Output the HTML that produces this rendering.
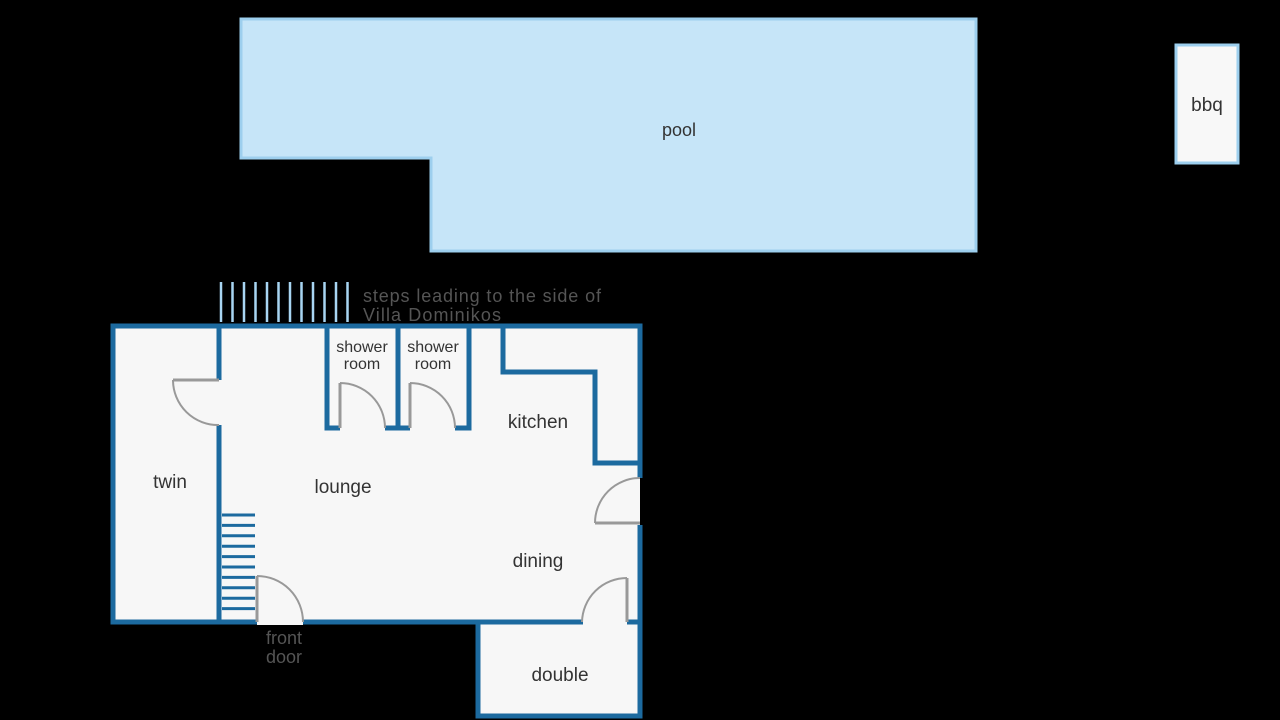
<!DOCTYPE html>
<html><head><meta charset="utf-8"><style>
html,body{margin:0;padding:0;background:#000;}
svg{display:block}
text{font-family:"Liberation Sans","DejaVu Sans",sans-serif;fill:#333;}
</style></head><body>
<svg width="1280" height="720" viewBox="0 0 1280 720" xmlns="http://www.w3.org/2000/svg">
<rect width="1280" height="720" fill="#000"/>
<polygon points="241,19 976,19 976,251 431,251 431,158 241,158" fill="#c6e5f8" stroke="#9dcfee" stroke-width="3"/>
<text x="679" y="136" font-size="18" text-anchor="middle">pool</text>
<rect x="1176" y="45" width="62" height="118" fill="#f8f8f8" stroke="#9dcfee" stroke-width="3"/>
<text x="1207" y="111" font-size="19" text-anchor="middle">bbq</text>
<g stroke="#a8d5f2" stroke-width="2.5">
<line x1="221" y1="282" x2="221" y2="322"/><line x1="232.5" y1="282" x2="232.5" y2="322"/><line x1="244" y1="282" x2="244" y2="322"/><line x1="255.5" y1="282" x2="255.5" y2="322"/><line x1="267" y1="282" x2="267" y2="322"/><line x1="278.5" y1="282" x2="278.5" y2="322"/><line x1="290" y1="282" x2="290" y2="322"/><line x1="301.5" y1="282" x2="301.5" y2="322"/><line x1="313" y1="282" x2="313" y2="322"/><line x1="324.5" y1="282" x2="324.5" y2="322"/><line x1="336" y1="282" x2="336" y2="322"/><line x1="347.5" y1="282" x2="347.5" y2="322"/>
</g>
<text x="363" y="302" font-size="18" textLength="238" style="fill:#555">steps leading to the side of</text>
<text x="363" y="321" font-size="18" textLength="138" style="fill:#555">Villa Dominikos</text>
<rect x="113" y="326" width="527" height="296" fill="#f7f7f7"/>
<rect x="476" y="622" width="164" height="94" fill="#f7f7f7"/>
<g stroke="#1c6a9f" stroke-width="5" fill="none">
<polyline points="583,622 113,622 113,326 640,326 640,478"/>
<line x1="640" y1="525" x2="640" y2="622"/>
<line x1="627" y1="622" x2="640" y2="622"/>
<polyline points="478,622 478,716 640,716 640,622"/>
<line x1="219" y1="326" x2="219" y2="380"/>
<line x1="219" y1="425" x2="219" y2="622"/>
<polyline points="327,326 327,428 340,428"/>
<polyline points="385,428 410,428"/>
<line x1="398" y1="326" x2="398" y2="428"/>
<polyline points="455,428 469,428 469,326"/>
<polyline points="503,326 503,372 595,372 595,463 640,463"/>
</g>
<line x1="257" y1="622" x2="303" y2="622" stroke="#f7f7f7" stroke-width="6"/>
<g stroke="#1c6a9f" stroke-width="3">
<line x1="222" y1="515" x2="255" y2="515"/><line x1="222" y1="525.4" x2="255" y2="525.4"/><line x1="222" y1="535.8" x2="255" y2="535.8"/><line x1="222" y1="546.2" x2="255" y2="546.2"/><line x1="222" y1="556.6" x2="255" y2="556.6"/><line x1="222" y1="567" x2="255" y2="567"/><line x1="222" y1="577.4" x2="255" y2="577.4"/><line x1="222" y1="587.8" x2="255" y2="587.8"/><line x1="222" y1="598.2" x2="255" y2="598.2"/><line x1="222" y1="608.6" x2="255" y2="608.6"/>
</g>
<g stroke="#999" fill="none">
<line x1="173" y1="380" x2="219" y2="380" stroke-width="3"/>
<path d="M173,380 A45,45 0 0 0 219,425" stroke-width="2"/>
<line x1="340" y1="383" x2="340" y2="428" stroke-width="3"/>
<path d="M340,383 A45,45 0 0 1 385,428" stroke-width="2"/>
<line x1="410" y1="383" x2="410" y2="428" stroke-width="3"/>
<path d="M410,383 A45,45 0 0 1 455,428" stroke-width="2"/>
<line x1="595" y1="523" x2="640" y2="523" stroke-width="3"/>
<path d="M595,523 A45,45 0 0 1 640,478" stroke-width="2"/>
<line x1="627" y1="578" x2="627" y2="622" stroke-width="3"/>
<path d="M627,578 A45,45 0 0 0 582,622" stroke-width="2"/>
<line x1="257" y1="576" x2="257" y2="622" stroke-width="3"/>
<path d="M257,576 A46,46 0 0 1 303,622" stroke-width="2"/>
</g>
<g font-size="19" text-anchor="middle">
<text x="170" y="488">twin</text>
<text x="343" y="493">lounge</text>
<text x="538" y="428">kitchen</text>
<text x="538" y="567">dining</text>
<text x="560" y="681">double</text>
</g>
<g font-size="16" text-anchor="middle">
<text x="362" y="352">shower</text><text x="362" y="369">room</text>
<text x="433" y="352">shower</text><text x="433" y="369">room</text>
<text x="284" y="644" style="fill:#555" font-size="18">front</text>
<text x="284" y="663" style="fill:#555" font-size="18">door</text>
</g>
</svg>
</body></html>
